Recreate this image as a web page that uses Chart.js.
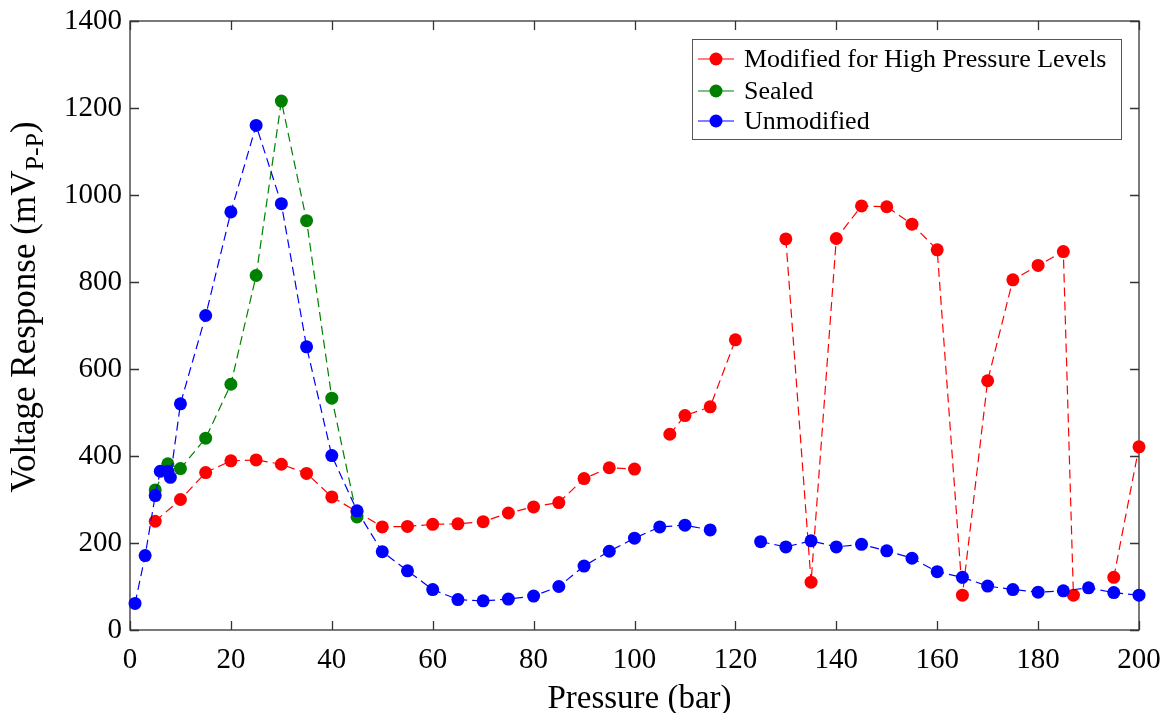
<!DOCTYPE html>
<html lang="en">
<head>
<meta charset="UTF-8">
<title>Voltage Response vs Pressure</title>
<script src="https://cdn.jsdelivr.net/npm/chart.js"></script>
<style>
  html, body { margin: 0; padding: 0; background: #fff; }
  #wrap { width: 1170px; height: 713px; }
</style>
</head>
<body>
<div id="wrap"><canvas id="myChart" width="1170" height="713"></canvas></div>
<script>
  // pressure (bar) and response (mV P-P); null breaks the line
  var modX = [5, 10, 15, 20, 25, 30, 35, 40, 45, 50, 55, 60, 65, 70, 75, 80, 85, 90, 95, 100, 103, 107, 110, 115, 120, 125, 130, 135, 140, 145, 150, 155, 160, 165, 170, 175, 180, 185, 187, 190, 195, 200];
  var modY = [250, 300, 362, 389, 391, 381, 360, 306, 272, 237, 238, 243, 244, 249, 269, 283, 293, 348, 373, 370, null, 450, 493, 513, 667, null, 899, 110, 900, 975, 973, 933, 874, 80, 573, 805, 838, 870, 80, null, 121, 421];

  var sealX = [5, 7.5, 10, 15, 20, 25, 30, 35, 40, 45];
  var sealY = [322, 382, 371, 441, 565, 815, 1216, 941, 533, 260];

  var unmodX = [1, 3, 5, 6, 7.5, 8, 10, 15, 20, 25, 30, 35, 40, 45, 50, 55, 60, 65, 70, 75, 80, 85, 90, 95, 100, 105, 110, 115, 120, 125, 130, 135, 140, 145, 150, 155, 160, 165, 170, 175, 180, 185, 190, 195, 200];
  var unmodY = [61, 171, 309, 365, 365, 351, 520, 723, 961, 1160, 980, 651, 401, 274, 180, 136, 93, 70, 67, 71, 78, 100, 147, 181, 211, 237, 241, 230, null, 203, 191, 205, 191, 197, 182, 165, 134, 121, 101, 93, 87, 90, 97, 86, 80];

  var xTicks = [0, 20, 40, 60, 80, 100, 120, 140, 160, 180, 200];
  var yTicks = [0, 200, 400, 600, 800, 1000, 1200, 1400];

  var seriesNames = ['Modified for High Pressure Levels', 'Sealed', 'Unmodified'];
  var seriesColors = ['#ff0000', '#008000', '#0000ff'];

  var FONT = '"Liberation Serif", "Times New Roman", serif';

  function pts(xs, ys) {
    var out = [];
    for (var i = 0; i < xs.length; i++) out.push({ x: xs[i], y: ys[i] });
    return out;
  }

  function ds(i, data, order) {
    return {
      label: seriesNames[i],
      data: data,
      borderColor: seriesColors[i],
      backgroundColor: seriesColors[i],
      pointBackgroundColor: seriesColors[i],
      pointBorderWidth: 0,
      pointRadius: 6.5,
      borderWidth: 1.2,
      borderDash: [9, 5],
      showLine: true,
      spanGaps: false,
      clip: false,
      order: order
    };
  }

  // keep the plot box where it is, whatever the tick labels need
  function noPad(s) {
    s.paddingTop = 0; s.paddingBottom = 0;
    s.paddingLeft = 0; s.paddingRight = 0;
  }

  // box around the plot with inward ticks on every side
  var framePlugin = {
    id: 'frame',
    beforeDatasetsDraw: function (chart) {
      var ctx = chart.ctx, a = chart.chartArea;
      var xs = chart.scales.x, ys = chart.scales.y;
      var len = 9;
      ctx.save();
      ctx.strokeStyle = '#333';
      ctx.lineWidth = 1.3;
      ctx.strokeRect(a.left, a.top, a.right - a.left, a.bottom - a.top);
      ctx.beginPath();
      xTicks.forEach(function (v) {
        var px = Math.round(xs.getPixelForValue(v)) + 0.5;
        ctx.moveTo(px, a.bottom); ctx.lineTo(px, a.bottom - len);
        ctx.moveTo(px, a.top); ctx.lineTo(px, a.top + len);
      });
      yTicks.forEach(function (v) {
        var py = Math.round(ys.getPixelForValue(v)) + 0.5;
        ctx.moveTo(a.left, py); ctx.lineTo(a.left + len, py);
        ctx.moveTo(a.right, py); ctx.lineTo(a.right - len, py);
      });
      ctx.stroke();
      ctx.restore();
    }
  };

  // axis titles (y title needs a subscript) and the legend box
  var labelPlugin = {
    id: 'labels',
    afterDraw: function (chart) {
      var ctx = chart.ctx, a = chart.chartArea;
      ctx.save();
      ctx.fillStyle = '#000';

      ctx.font = '33px ' + FONT;
      ctx.textAlign = 'center';
      ctx.textBaseline = 'alphabetic';
      ctx.fillText('Pressure (bar)', (a.left + a.right) / 2 + 5, 708);

      // y title, rotated
      var main = 'Voltage Response (mV', sub = 'P-P', close = ')';
      ctx.font = '35px ' + FONT;
      var w1 = ctx.measureText(main).width;
      var w3 = ctx.measureText(close).width;
      ctx.font = '26px ' + FONT;
      var w2 = ctx.measureText(sub).width;
      var total = w1 + w2 + w3;
      ctx.translate(35, 307);
      ctx.rotate(-Math.PI / 2);
      ctx.textAlign = 'left';
      var x0 = -total / 2;
      ctx.font = '35px ' + FONT;
      ctx.fillText(main, x0, 0);
      ctx.font = '26px ' + FONT;
      ctx.fillText(sub, x0 + w1, 8);
      ctx.font = '35px ' + FONT;
      ctx.fillText(close, x0 + w1 + w2, 0);
      ctx.setTransform(1, 0, 0, 1, 0, 0);

      // legend
      var bx = 692, by = 39, bw = 429, bh = 100;
      ctx.fillStyle = '#fff';
      ctx.fillRect(bx, by, bw, bh);
      ctx.strokeStyle = '#555';
      ctx.lineWidth = 1;
      ctx.strokeRect(bx + 0.5, by + 0.5, bw, bh);
      var rows = [59, 91, 121];
      ctx.font = '26px ' + FONT;
      ctx.textAlign = 'left';
      ctx.textBaseline = 'middle';
      for (var i = 0; i < 3; i++) {
        var ry = rows[i];
        ctx.strokeStyle = seriesColors[i];
        ctx.lineWidth = 1.2;
        ctx.beginPath();
        ctx.moveTo(698, ry); ctx.lineTo(734, ry);
        ctx.stroke();
        ctx.fillStyle = seriesColors[i];
        ctx.beginPath();
        ctx.arc(716, ry, 6.5, 0, Math.PI * 2);
        ctx.fill();
        ctx.fillStyle = '#000';
        ctx.fillText(seriesNames[i], 744, ry + 1);
      }
      ctx.restore();
    }
  };

  var ctx = document.getElementById('myChart');
  new Chart(ctx, {
    type: 'scatter',
    data: {
      datasets: [
        ds(0, pts(modX, modY), 3),
        ds(1, pts(sealX, sealY), 2),
        ds(2, pts(unmodX, unmodY), 1)
      ]
    },
    options: {
      responsive: false,
      animation: false,
      events: [],
      layout: { padding: { left: 0, right: 31, top: 21, bottom: 0 } },
      plugins: {
        legend: { display: false },
        tooltip: { enabled: false }
      },
      scales: {
        x: {
          type: 'linear',
          min: 0,
          max: 200,
          afterFit: function (s) { s.height = 83; noPad(s); },
          afterBuildTicks: function (s) { s.ticks = xTicks.map(function (v) { return { value: v }; }); },
          grid: { display: false, drawTicks: false },
          border: { display: false },
          ticks: {
            color: '#000',
            padding: 13,
            maxRotation: 0,
            callback: function (v) { return String(v); },
            font: { family: FONT, size: 29 }
          }
        },
        y: {
          type: 'linear',
          min: 0,
          max: 1400,
          afterFit: function (s) { s.width = 130; noPad(s); },
          afterBuildTicks: function (s) { s.ticks = yTicks.map(function (v) { return { value: v }; }); },
          grid: { display: false, drawTicks: false },
          border: { display: false },
          ticks: {
            color: '#000',
            padding: 8,
            callback: function (v) { return String(v); },
            font: { family: FONT, size: 29 }
          }
        }
      }
    },
    plugins: [framePlugin, labelPlugin]
  });
</script>
</body>
</html>
